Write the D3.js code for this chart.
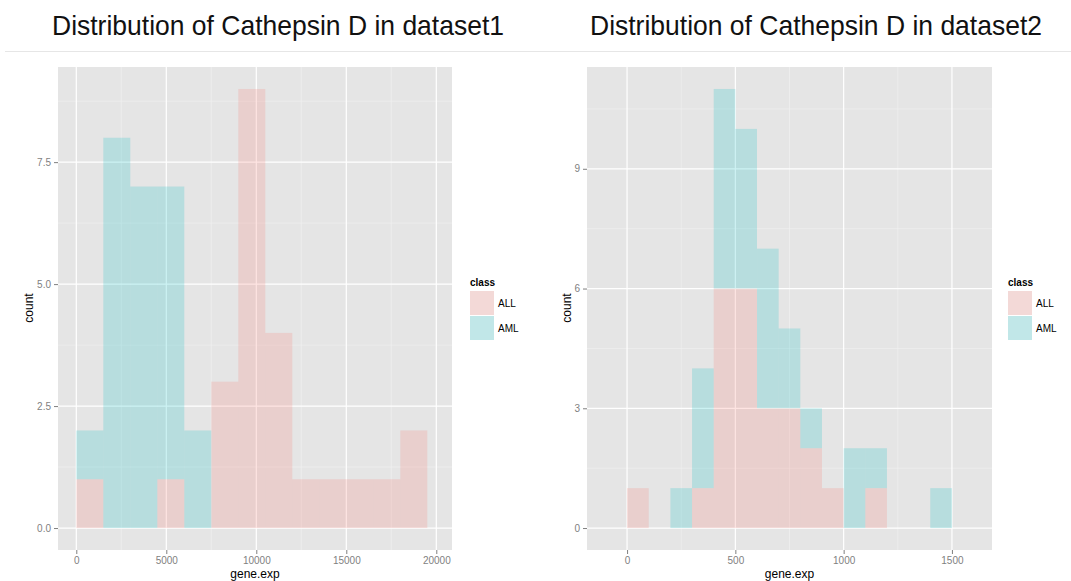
<html>
<head>
  <meta charset="UTF-8">
  <script src="https://d3js.org/d3.v7.min.js"></script>
  <style>
    body { margin: 0; background: #fff; }
    text { font-family: "Liberation Sans", Arial, sans-serif; }
  </style>
</head>
<body>
  <svg id="chart" width="1071" height="581"></svg>
  <script>
    // class labels and colours
    const classes = [ "ALL", "AML" ];
    const classColors = [ "#F8766D", "#00BFC4" ];

    // dataset1 : bins of width 1500
    const binWidth1 = 1500;
    const binStart1 = [ 0, 1500, 3000, 4500, 6000, 7500, 9000, 10500, 12000, 13500, 15000, 16500, 18000 ];
    const countAll1 = [ 1, 0, 0, 1, 0, 3, 9, 4, 1, 1, 1, 1, 2 ];
    const countAml1 = [ 1, 8, 7, 6, 2, 0, 0, 0, 0, 0, 0, 0, 0 ];
    const xTicks1 = [ 0, 5000, 10000, 15000, 20000 ];
    const yTicks1 = [ 0, 2.5, 5, 7.5 ];

    // dataset2 : bins of width 100
    const binWidth2 = 100;
    const binStart2 = [ 0, 100, 200, 300, 400, 500, 600, 700, 800, 900, 1000, 1100, 1200, 1300, 1400 ];
    const countAll2 = [ 1, 0, 0, 1, 6, 6, 3, 3, 2, 1, 0, 1, 0, 0, 0 ];
    const countAml2 = [ 0, 0, 1, 3, 5, 4, 4, 2, 1, 0, 2, 1, 0, 0, 1 ];
    const xTicks2 = [ 0, 500, 1000, 1500 ];
    const yTicks2 = [ 0, 3, 6, 9 ];

    const svg = d3.select( "#chart" );

    // thin rule under the titles
    svg.append( "line" )
      .attr( "x1", 5 ).attr( "x2", 1071 )
      .attr( "y1", 51.5 ).attr( "y2", 51.5 )
      .attr( "stroke", "#e6e6e6" );

    function drawPanel( opt ) {
      const x = d3.scaleLinear().domain( opt.xDomain ).range( [ opt.left, opt.right ] );
      const y = d3.scaleLinear().domain( opt.yDomain ).range( [ 550, 67 ] );
      const g = svg.append( "g" );

      // title
      g.append( "text" )
        .attr( "x", opt.titleX ).attr( "y", 35 )
        .attr( "font-size", 28 )
        .attr( "textLength", 452 )
        .attr( "lengthAdjust", "spacingAndGlyphs" )
        .attr( "fill", "#111" )
        .text( opt.title );

      // panel background
      g.append( "rect" )
        .attr( "x", opt.left ).attr( "y", 67 )
        .attr( "width", opt.right - opt.left ).attr( "height", 550 - 67 )
        .attr( "fill", "#E5E5E5" );

      // minor grid
      g.selectAll( ".minx" ).data( opt.xMinor ).enter().append( "line" )
        .attr( "x1", d => x( d ) ).attr( "x2", d => x( d ) )
        .attr( "y1", 67 ).attr( "y2", 550 )
        .attr( "stroke", "#F2F2F2" ).attr( "stroke-width", 0.6 );
      g.selectAll( ".miny" ).data( opt.yMinor ).enter().append( "line" )
        .attr( "y1", d => y( d ) ).attr( "y2", d => y( d ) )
        .attr( "x1", opt.left ).attr( "x2", opt.right )
        .attr( "stroke", "#F2F2F2" ).attr( "stroke-width", 0.6 );

      // major grid
      g.selectAll( ".majx" ).data( opt.xTicks ).enter().append( "line" )
        .attr( "x1", d => x( d ) ).attr( "x2", d => x( d ) )
        .attr( "y1", 67 ).attr( "y2", 550 )
        .attr( "stroke", "#fff" ).attr( "stroke-width", 1.2 );
      g.selectAll( ".majy" ).data( opt.yTicks ).enter().append( "line" )
        .attr( "y1", d => y( d ) ).attr( "y2", d => y( d ) )
        .attr( "x1", opt.left ).attr( "x2", opt.right )
        .attr( "stroke", "#fff" ).attr( "stroke-width", 1.2 );

      // stacked bars : ALL at bottom, AML on top
      const bars = opt.bins.map( ( b, i ) => ( { b: b, all: opt.all[ i ], aml: opt.aml[ i ] } ) );
      g.selectAll( ".all" ).data( bars.filter( d => d.all > 0 ) ).enter().append( "rect" )
        .attr( "x", d => x( d.b ) )
        .attr( "width", d => x( d.b + opt.binWidth ) - x( d.b ) )
        .attr( "y", d => y( d.all ) )
        .attr( "height", d => y( 0 ) - y( d.all ) )
        .attr( "fill", classColors[ 0 ] ).attr( "fill-opacity", 0.2 );
      g.selectAll( ".aml" ).data( bars.filter( d => d.aml > 0 ) ).enter().append( "rect" )
        .attr( "x", d => x( d.b ) )
        .attr( "width", d => x( d.b + opt.binWidth ) - x( d.b ) )
        .attr( "y", d => y( d.all + d.aml ) )
        .attr( "height", d => y( d.all ) - y( d.all + d.aml ) )
        .attr( "fill", classColors[ 1 ] ).attr( "fill-opacity", 0.2 );

      // axes
      const xAxis = g.append( "g" ).attr( "transform", "translate(0,550)" )
        .call( d3.axisBottom( x ).tickValues( opt.xTicks ).tickSize( 4 ).tickPadding( 3 ).tickFormat( d3.format( "d" ) ) );
      const yAxis = g.append( "g" ).attr( "transform", "translate(" + opt.left + ",0)" )
        .call( d3.axisLeft( y ).tickValues( opt.yTicks ).tickSize( 4 ).tickPadding( 3 ).tickFormat( opt.yFormat ) );
      [ xAxis, yAxis ].forEach( a => {
        a.select( ".domain" ).remove();
        a.selectAll( "line" ).attr( "stroke", "#7F7F7F" );
        a.selectAll( "text" ).attr( "fill", "#7F7F7F" ).attr( "font-size", 10 )
          .style( "font-family", "'Liberation Sans', Arial, sans-serif" );
      } );

      // axis titles
      g.append( "text" )
        .attr( "x", ( opt.left + opt.right ) / 2 ).attr( "y", 578 )
        .attr( "text-anchor", "middle" ).attr( "font-size", 12 )
        .text( "gene.exp" );
      g.append( "text" )
        .attr( "transform", "translate(" + opt.countX + ",308) rotate(-90)" )
        .attr( "text-anchor", "middle" ).attr( "font-size", 12 )
        .text( "count" );

      // legend
      const lg = g.append( "g" ).attr( "transform", "translate(" + opt.legendX + ",0)" );
      lg.append( "text" ).attr( "x", 0 ).attr( "y", 286 )
        .attr( "font-size", 10 ).attr( "font-weight", "bold" ).text( "class" );
      classes.forEach( ( c, i ) => {
        lg.append( "rect" ).attr( "x", 0 ).attr( "y", 291 + i * 25 )
          .attr( "width", 24 ).attr( "height", 24 ).attr( "fill", "#F2F2F2" );
        lg.append( "rect" ).attr( "x", 0 ).attr( "y", 291 + i * 25 )
          .attr( "width", 24 ).attr( "height", 24 )
          .attr( "fill", classColors[ i ] ).attr( "fill-opacity", 0.2 );
        lg.append( "text" ).attr( "x", 28 ).attr( "y", 307 + i * 25 )
          .attr( "font-size", 10 ).text( c );
      } );
    }

    drawPanel( {
      title: "Distribution of Cathepsin D in dataset1",
      titleX: 52,
      left: 58, right: 452,
      xDomain: [ -1017, 20872 ], yDomain: [ -0.45, 9.45 ],
      xTicks: xTicks1, yTicks: yTicks1,
      xMinor: [ 2500, 7500, 12500, 17500 ], yMinor: [ 1.25, 3.75, 6.25, 8.75 ],
      yFormat: d3.format( ".1f" ),
      bins: binStart1, binWidth: binWidth1, all: countAll1, aml: countAml1,
      countX: 33, legendX: 470
    } );

    drawPanel( {
      title: "Distribution of Cathepsin D in dataset2",
      titleX: 590,
      left: 587, right: 992,
      xDomain: [ -185, 1685 ], yDomain: [ -0.55, 11.55 ],
      xTicks: xTicks2, yTicks: yTicks2,
      xMinor: [ 250, 750, 1250 ], yMinor: [ 1.5, 4.5, 7.5, 10.5 ],
      yFormat: d3.format( "d" ),
      bins: binStart2, binWidth: binWidth2, all: countAll2, aml: countAml2,
      countX: 571, legendX: 1008
    } );
  </script>
</body>
</html>
